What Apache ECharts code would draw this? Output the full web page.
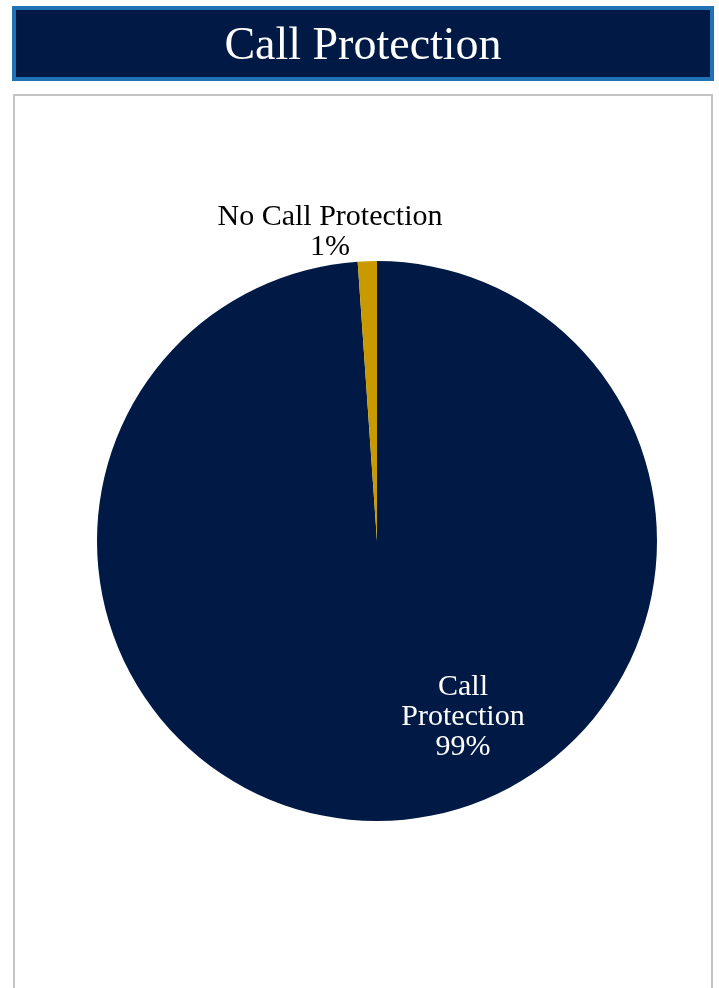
<!DOCTYPE html>
<html>
<head>
<meta charset="utf-8">
<title>Call Protection</title>
<script src="https://cdn.jsdelivr.net/npm/echarts@6/dist/echarts.min.js"></script>
<style>
  html, body { margin: 0; padding: 0; background: #ffffff; }
  #chart { width: 719px; height: 988px; }
</style>
</head>
<body>
<div id="chart"></div>
<script>
// Share of holdings with and without call protection (%)
var categories = ['Call Protection', 'No Call Protection'];
var shares = [98.9, 1.1];
var sliceColors = ['#001A45', '#C99A00'];
var chartTitle = 'Call Protection';

var FONT = '"Liberation Serif", "Times New Roman", serif';
var NAVY = '#001A45';

var chart = echarts.init(document.getElementById('chart'), null, { renderer: 'canvas' });

// Label placement for each slice: centre of the text block
var labelSpots = [
  { x: 463, y: 717 },
  { x: 330, y: 232 }
];

chart.setOption({
  backgroundColor: '#ffffff',
  animation: false,
  graphic: [
    {
      type: 'rect',
      shape: { x: 14, y: 95, width: 698, height: 920 },
      style: { fill: '#ffffff', stroke: '#C4C4C4', lineWidth: 2 },
      z: -10
    },
    {
      type: 'rect',
      shape: { x: 14, y: 8, width: 698, height: 71 },
      style: { fill: NAVY, stroke: '#2171B5', lineWidth: 4 },
      z: 10
    },
    {
      type: 'text',
      x: 363,
      y: 47,
      z: 11,
      style: {
        text: chartTitle,
        fill: '#ffffff',
        font: '46px ' + FONT,
        textAlign: 'center',
        textVerticalAlign: 'middle'
      }
    }
  ],
  series: [
    {
      type: 'pie',
      center: [377, 541],
      radius: [0, 280],
      startAngle: 90,
      clockwise: true,
      avoidLabelOverlap: false,
      itemStyle: { borderWidth: 0 },
      emphasis: { disabled: true },
      labelLine: { show: false },
      label: {
        show: true,
        position: 'outside',
        fontFamily: FONT,
        fontSize: 30,
        lineHeight: 30,
        align: 'center',
        formatter: function (p) {
          var name = p.dataIndex === 0 ? 'Call\nProtection' : p.name;
          return name + '\n' + Math.round(p.percent) + '%';
        }
      },
      labelLayout: function (params) {
        var s = labelSpots[params.dataIndex];
        return { x: s.x, y: s.y, align: 'center', verticalAlign: 'middle' };
      },
      data: categories.map(function (c, i) {
        return {
          name: c,
          value: shares[i],
          itemStyle: { color: sliceColors[i] },
          label: { color: i === 0 ? '#ffffff' : '#000000' }
        };
      })
    }
  ]
});
</script>
</body>
</html>
